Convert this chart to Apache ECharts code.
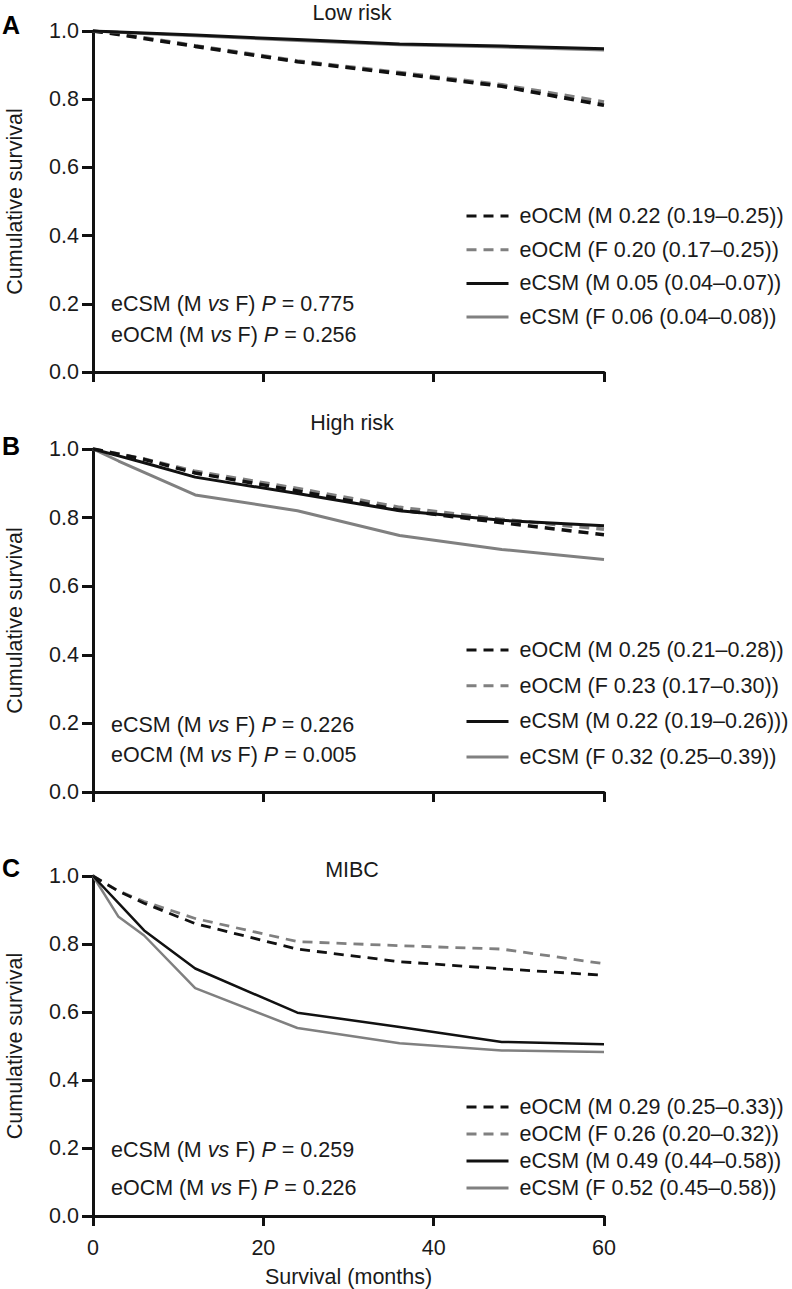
<!DOCTYPE html>
<html>
<head>
<meta charset="utf-8">
<script src="https://cdn.jsdelivr.net/npm/echarts@6/dist/echarts.min.js"></script>
<style>
html,body{margin:0;padding:0;background:#fff;}
#chart{width:792px;height:1289px;}
</style>
</head>
<body>
<div id="chart"></div>
<script>
// ---------------- data ----------------
const months = [0, 3, 6, 12, 24, 36, 48, 60];
const xTicks = [0, 20, 40, 60];
const yTicks = [0.0, 0.2, 0.4, 0.6, 0.8, 1.0];

const panelTitles = ['Low risk', 'High risk', 'MIBC'];
const panelLetters = ['A', 'B', 'C'];

// Panel A – Low risk
const ocmM_A = [1, 0.990, 0.978, 0.955, 0.910, 0.875, 0.838, 0.782];
const ocmF_A = [1, 0.991, 0.980, 0.957, 0.912, 0.878, 0.842, 0.792];
const csmM_A = [1, 0.997, 0.994, 0.988, 0.975, 0.962, 0.956, 0.948];
const csmF_A = [1, 0.996, 0.993, 0.986, 0.972, 0.960, 0.953, 0.944];
const legendA = ['eOCM (M 0.22 (0.19–0.25))', 'eOCM (F 0.20 (0.17–0.25))', 'eCSM (M 0.05 (0.04–0.07))', 'eCSM (F 0.06 (0.04–0.08))'];
const pvalA = ['0.775', '0.256'];

// Panel B – High risk
const ocmM_B = [1, 0.985, 0.970, 0.930, 0.878, 0.822, 0.785, 0.750];
const ocmF_B = [1, 0.986, 0.971, 0.935, 0.885, 0.830, 0.795, 0.766];
const csmM_B = [1, 0.980, 0.960, 0.918, 0.870, 0.820, 0.792, 0.776];
const csmF_B = [1, 0.965, 0.932, 0.866, 0.820, 0.748, 0.707, 0.678];
const legendB = ['eOCM (M 0.25 (0.21–0.28))', 'eOCM (F 0.23 (0.17–0.30))', 'eCSM (M 0.22 (0.19–0.26)))', 'eCSM (F 0.32 (0.25–0.39))'];
const pvalB = ['0.226', '0.005'];

// Panel C – MIBC
const ocmM_C = [1, 0.955, 0.920, 0.860, 0.785, 0.748, 0.727, 0.708];
const ocmF_C = [1, 0.956, 0.925, 0.875, 0.807, 0.795, 0.785, 0.742];
const csmM_C = [1, 0.920, 0.840, 0.728, 0.598, 0.556, 0.512, 0.505];
const csmF_C = [1, 0.880, 0.825, 0.670, 0.553, 0.508, 0.487, 0.482];
const legendC = ['eOCM (M 0.29 (0.25–0.33))', 'eOCM (F 0.26 (0.20–0.32))', 'eCSM (M 0.49 (0.44–0.58))', 'eCSM (F 0.52 (0.45–0.58))'];
const pvalC = ['0.259', '0.226'];

// ---------------- layout / style ----------------
const FONT = '"Liberation Sans", Arial, Helvetica, sans-serif';
const TXT = '#1a1a1a';
const BLACK = '#111111';
const GRAY = '#808080';
const FS = 21.5;

const panels = [
  {ocmM: ocmM_A, ocmF: ocmF_A, csmM: csmM_A, csmF: csmF_A, legend: legendA, pv: pvalA,
   grid: {left: 93, top: 31, width: 511, height: 341}, lw: 3, dw: 3.6,
   titleTop: 1.5, letterTop: 12, legendTop: 205, legendGap: 11.7, pTop: [293, 324]},
  {ocmM: ocmM_B, ocmF: ocmF_B, csmM: csmM_B, csmF: csmF_B, legend: legendB, pv: pvalB,
   grid: {left: 93, top: 449, width: 511, height: 343}, lw: 3, dw: 3.4,
   titleTop: 412, letterTop: 433, legendTop: 639, legendGap: 13.7, pTop: [714, 744]},
  {ocmM: ocmM_C, ocmF: ocmF_C, csmM: csmM_C, csmF: csmF_C, legend: legendC, pv: pvalC,
   grid: {left: 93, top: 876, width: 511, height: 340}, lw: 2.5, dw: 2.8,
   titleTop: 859, letterTop: 855, legendTop: 1096, legendGap: 5, pTop: [1139, 1177]}
];

const pair = (vals) => months.map((m, i) => [m, vals[i]]);

const option = {
  backgroundColor: '#ffffff',
  animation: false,
  textStyle: {fontFamily: FONT, color: TXT},
  grid: [], xAxis: [], yAxis: [], series: [], legend: [], title: []
};

panels.forEach((p, k) => {
  option.grid.push(Object.assign({containLabel: false, outerBoundsMode: 'none'}, p.grid));
  const last = k === 2;
  option.xAxis.push({
    type: 'value', gridIndex: k, min: 0, max: 60, interval: 20,
    axisLine: {show: true, onZero: false, lineStyle: {color: BLACK, width: 3}},
    axisTick: {show: true, inside: false, length: 10, lineStyle: {color: BLACK, width: 3}},
    axisLabel: {show: last, margin: 21, fontSize: FS, color: TXT, fontFamily: FONT,
      customValues: xTicks},
    splitLine: {show: false},
    name: last ? 'Survival (months)' : '',
    nameLocation: 'middle', nameGap: 50,
    nameTextStyle: {fontSize: FS, color: TXT, fontFamily: FONT}
  });
  option.yAxis.push({
    type: 'value', gridIndex: k, min: 0, max: 1, interval: 0.2,
    axisLine: {show: true, onZero: false, lineStyle: {color: BLACK, width: 3}},
    axisTick: {show: true, inside: false, length: 11, lineStyle: {color: BLACK, width: 3}},
    axisLabel: {show: true, margin: 14, fontSize: FS, color: TXT, fontFamily: FONT,
      formatter: (v) => yTicks.find(t => Math.abs(t - v) < 1e-9).toFixed(1)},
    splitLine: {show: false},
    name: 'Cumulative survival', nameLocation: 'middle', nameGap: 67,
    nameTextStyle: {fontSize: FS, color: TXT, fontFamily: FONT}
  });
  // females drawn first so that males sit on top (as in the reference)
  const defs = [
    {name: p.legend[1], data: p.ocmF, color: GRAY, type: [10, 7], w: p.dw},
    {name: p.legend[0], data: p.ocmM, color: BLACK, type: [10, 7], w: p.dw},
    {name: p.legend[3], data: p.csmF, color: GRAY, type: 'solid', w: p.lw},
    {name: p.legend[2], data: p.csmM, color: BLACK, type: 'solid', w: p.lw}
  ];
  defs.forEach((d) => {
    option.series.push({
      type: 'line', name: d.name, xAxisIndex: k, yAxisIndex: k,
      data: pair(d.data), symbol: 'none', smooth: false,
      lineStyle: {color: d.color, width: d.w, type: d.type},
      itemStyle: {color: d.color},
      emphasis: {disabled: true}
    });
  });
  option.legend.push({
    data: p.legend, orient: 'vertical', left: 465, top: p.legendTop,
    itemWidth: 42, itemHeight: 14, itemGap: p.legendGap, selectedMode: false,
    padding: 0,
    itemStyle: {opacity: 0},
    lineStyle: {width: 3},
    textStyle: {fontSize: FS, color: TXT, fontFamily: FONT, lineHeight: 22, padding: [0, 0, 0, 6]}
  });
  option.title.push({
    text: panelTitles[k], left: 352, top: p.titleTop, textAlign: 'center', padding: 0,
    textStyle: {fontSize: FS, fontWeight: 'normal', color: TXT, fontFamily: FONT}
  });
  option.title.push({
    text: panelLetters[k], left: 2, top: p.letterTop, padding: 0,
    textStyle: {fontSize: 25, fontWeight: 'bold', color: '#000', fontFamily: FONT}
  });
  const rich = {
    n: {fontSize: FS, color: TXT, fontFamily: FONT},
    i: {fontSize: FS, color: TXT, fontFamily: FONT, fontStyle: 'italic'}
  };
  option.title.push({
    text: '{n|eCSM (M }{i|vs}{n| F) }{i|P}{n| = ' + p.pv[0] + '}',
    left: 111, top: p.pTop[0], padding: 0,
    textStyle: {rich: rich, fontSize: FS, fontWeight: 'normal'}
  });
  option.title.push({
    text: '{n|eOCM (M }{i|vs}{n| F) }{i|P}{n| = ' + p.pv[1] + '}',
    left: 111, top: p.pTop[1], padding: 0,
    textStyle: {rich: rich, fontSize: FS, fontWeight: 'normal'}
  });
});

const chart = echarts.init(document.getElementById('chart'), null, {renderer: 'svg', width: 792, height: 1289});
chart.setOption(option);
</script>
</body>
</html>
